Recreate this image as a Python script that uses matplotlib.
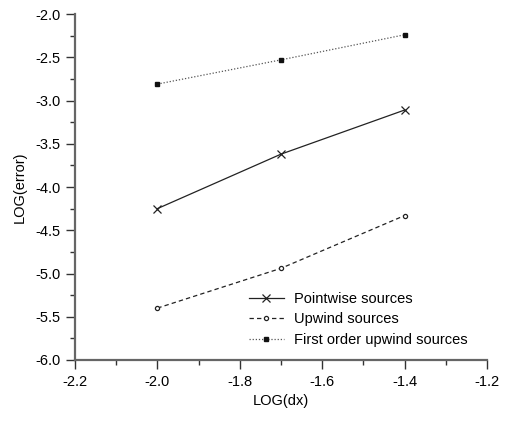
import matplotlib
matplotlib.use("Agg")
import matplotlib.pyplot as plt
from matplotlib.ticker import MultipleLocator

plt.rcParams['font.family'] = ['Liberation Sans', 'DejaVu Sans']

# Datos
log_dx = [-2.0, -1.7, -1.4]
pointwise = [-4.25, -3.62, -3.11]
upwind = [-5.40, -4.94, -4.33]
first_order = [-2.81, -2.53, -2.24]

fig = plt.figure(figsize=(5.08, 4.21), dpi=100)
ax = fig.add_axes([0.1476, 0.1449, 0.8111, 0.8218])

ax.plot(log_dx, pointwise, color='#222222', lw=0.9, marker='x', ms=6, mew=0.9,
        label='Pointwise sources')
ax.plot(log_dx, upwind, color='#222222', lw=0.9, ls=(0, (3.5, 2.5)), marker='o', ms=3,
        mfc='white', mew=0.9, label='Upwind sources')
ax.plot(log_dx, first_order, color='#555555', lw=0.9, ls=(0, (1, 1.5)), marker='s', ms=3.5,
        mfc='#111111', mec='#111111', label='First order upwind sources')

ax.set_xlim(-2.2, -1.2)
ax.set_ylim(-6.0, -2.0)
ax.xaxis.set_major_locator(MultipleLocator(0.2))
ax.xaxis.set_minor_locator(MultipleLocator(0.1))
ax.yaxis.set_major_locator(MultipleLocator(0.5))
ax.yaxis.set_minor_locator(MultipleLocator(0.25))
ax.xaxis.set_major_formatter(plt.FuncFormatter(lambda v, p: f"{v:.1f}"))
ax.yaxis.set_major_formatter(plt.FuncFormatter(lambda v, p: f"{v:.1f}"))

for s in ['top', 'right']:
    ax.spines[s].set_visible(False)
for s in ['left', 'bottom']:
    ax.spines[s].set_color('#666666')
    ax.spines[s].set_linewidth(1.6)

ax.tick_params(which='major', direction='out', length=6.5, width=1.0, color='#333333',
               labelsize=10.5, pad=4)
ax.tick_params(which='minor', direction='out', length=3.5, width=1.0, color='#333333')

ax.set_xlabel('LOG(dx)', fontsize=10.5, labelpad=4)
ax.set_ylabel('LOG(error)', fontsize=10.5, labelpad=6)

ax.legend(loc='lower right', bbox_to_anchor=(0.985, 0.0), frameon=False, fontsize=10.5,
          handlelength=2.4, labelspacing=0.45, handletextpad=0.7)

fig.savefig('out.png', dpi=100)
